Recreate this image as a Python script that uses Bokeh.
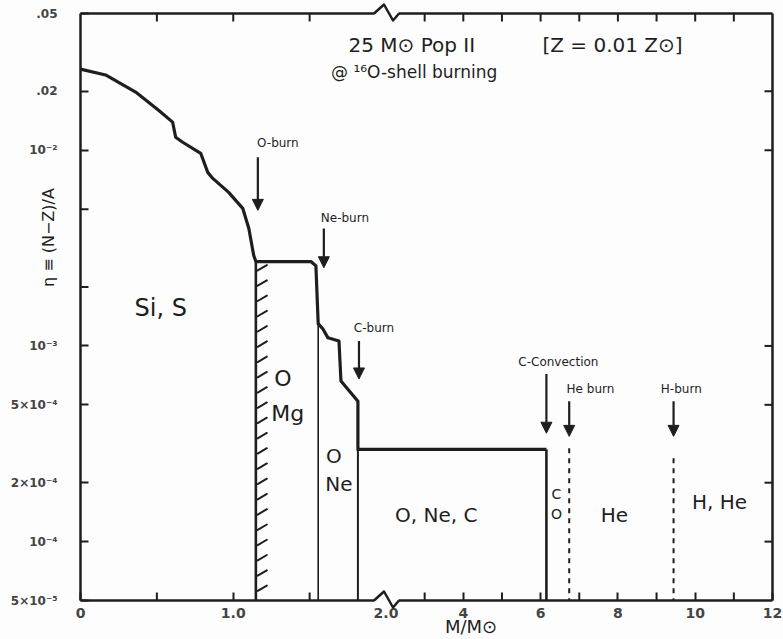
import numpy as np
from bokeh.plotting import figure
from bokeh.models import (Range1d, FixedTicker, LinearAxis, LogAxis, LogScale, Label, Arrow,
                          NormalHead)
from bokeh.embed import file_html
from bokeh.resources import INLINE

# ---------------- data ----------------
# broken mass axis: linear 0-2, compressed 2-12
BREAK = 2.0
RIGHT_SCALE = 0.253

mass_curve = [0.0, 0.164, 0.361, 0.511, 0.603, 0.623, 0.669, 0.787, 0.833, 0.866,
              0.970, 1.062, 1.102, 1.134, 1.148, 1.508, 1.541, 1.556, 1.587, 1.620,
              1.692, 1.705, 1.816, 1.816, 6.15]
eta_curve = [0.0260, 0.02426, 0.01983, 0.01603, 0.01393, 0.01166, 0.01099, 0.00965,
             0.00771, 0.00718, 0.00609, 0.00505, 0.00398, 0.00290, 0.00270, 0.00270,
             0.00257, 0.00130, 0.00122, 0.00110, 0.00106, 0.000662, 0.000522,
             0.000296, 0.000296]

boundary_mass = [1.148, 1.556, 1.816, 6.15]
boundary_top = [0.00270, 0.00130, 0.000296, 0.000296]
boundary_width = [2.6, 1.6, 2.0, 2.6]

dashed_mass = [6.74, 9.44]
dashed_top = [3.0e-4, 2.67e-4]

arrow_mass = [1.161, 1.593, 1.823, 6.15, 6.74, 9.44]
arrow_top = [9.2e-3, 3.98e-3, 1.06e-3, 7.18e-4, 5.22e-4, 5.22e-4]
arrow_tip = [4.93e-3, 2.51e-3, 6.78e-4, 3.58e-4, 3.45e-4, 3.45e-4]
arrow_text = ["O-burn", "Ne-burn", "C-burn", "C-Convection", "He burn", "H-burn"]
arrow_text_mass = [1.292, 1.731, 1.921, 6.46, 7.29, 9.64]
arrow_text_eta = [0.01086, 4.53e-3, 1.236e-3, 8.28e-4, 6.01e-4, 6.01e-4]

zone_text = ["Si, S", "O", "Mg", "O", "Ne", "O, Ne, C", "C", "O", "He", "H, He"]
zone_mass = [0.525, 1.325, 1.357, 1.659, 1.692, 3.30, 6.41, 6.41, 7.91, 10.63]
zone_eta = [1.567e-3, 6.78e-4, 4.53e-4, 2.73e-4, 1.96e-4, 1.37e-4, 1.76e-4, 1.39e-4,
            1.37e-4, 1.6e-4]
zone_size = ["24px", "22px", "22px", "20px", "20px", "20px", "14px", "14px", "20px", "20px"]

x_label_mass = [0, 1.0, 2.0, 4, 6, 8, 10, 12]
x_label_text = ["0", "1.0", "2.0", "4", "6", "8", "10", "12"]
x_minor_mass = [0.5, 1.5, 3, 5, 7, 9, 11]
top_tick_mass = [0.5, 1.0, 1.5, 3, 4, 5, 6, 7, 8, 9, 10, 11]

y_label_vals = [0.05, 0.02, 0.01, 1e-3, 5e-4, 2e-4, 1e-4, 5e-5]
y_label_text = [".05", ".02", "10\u207b\u00b2", "10\u207b\u00b3", "5\u00d710\u207b\u2074",
                "2\u00d710\u207b\u2074", "10\u207b\u2074", "5\u00d710\u207b\u2075"]
y_minor_vals = [5e-3, 2e-3]
y_right_ticks = [0.02, 0.01, 1e-3, 5e-4, 2e-4, 1e-4]

title_text = ["25 M\u2299  Pop II", "[Z = 0.01 Z\u2299]", "@ \u00b9\u2076O-shell burning"]
title_mass = [2.75, 7.86, 2.73]
title_eta = [0.0345, 0.0345, 0.0251]

ETA_MIN, ETA_MAX = 5e-5, 0.05
MASS_MAX = 12.0

# ---------------- layout ----------------
W, H = 783, 639
ML, MR, MT, MB = 80, 11, 13, 39
TICK = 8
INK = "#1e1e1e"
BG = "#fdfdfd"
FONT = "DejaVu Sans"


def to_u(m):
    m = np.asarray(m, dtype=float)
    return np.round(np.where(m <= BREAK, m, BREAK + (m - BREAK) * RIGHT_SCALE), 6)


U_MAX = float(to_u(MASS_MAX))
px_u = (W - ML - MR) / U_MAX
px_dec = (H - MT - MB) / np.log10(ETA_MAX / ETA_MIN)
x_range = Range1d(-ML / px_u, U_MAX + MR / px_u)
y_range = Range1d(ETA_MIN * 10 ** (-MB / px_dec), ETA_MAX * 10 ** (MT / px_dec))
du_tick = TICK / px_u
fy_tick = 10 ** (TICK / px_dec)

p = figure(width=W, height=H, output_backend="svg", toolbar_location=None,
           x_axis_type=None, y_axis_type=None, x_range=x_range, y_range=y_range,
           min_border=0, min_border_left=0, min_border_right=0, min_border_top=0,
           min_border_bottom=0)
p.y_scale = LogScale()
p.background_fill_color = BG
p.border_fill_color = BG
p.outline_line_color = None
p.grid.visible = False


def style_axis(ax):
    ax.axis_line_color = INK
    ax.axis_line_width = 2.5
    ax.major_tick_line_color = INK
    ax.major_tick_line_width = 2
    ax.major_tick_in = TICK
    ax.major_tick_out = 0
    ax.minor_tick_line_color = None
    ax.major_label_text_font = FONT
    ax.major_label_text_font_style = "bold"
    ax.major_label_text_color = "#444444"


xt = [float(v) for v in to_u(x_label_mass)]
bottom = LinearAxis(fixed_location=ETA_MIN, bounds=(0, U_MAX), ticker=FixedTicker(ticks=xt))
bottom.major_label_overrides = {t: s for t, s in zip(xt, x_label_text)}
style_axis(bottom)
bottom.major_label_standoff = 7
bottom.major_label_text_font_size = "14px"
p.add_layout(bottom, "below")

left = LogAxis(fixed_location=0.0, bounds=(ETA_MIN, ETA_MAX),
               ticker=FixedTicker(ticks=y_label_vals))
left.major_label_overrides = {t: s for t, s in zip(y_label_vals, y_label_text)}
style_axis(left)
left.major_label_standoff = 23
left.major_label_text_font_size = "12px"
p.add_layout(left, "left")

# top and right frame sides with inward ticks
p.line([0, U_MAX], [ETA_MAX, ETA_MAX], line_color=INK, line_width=2.5)
p.line([U_MAX, U_MAX], [ETA_MIN, ETA_MAX], line_color=INK, line_width=2.5)
tu = to_u(top_tick_mass)
p.segment(x0=tu, y0=[ETA_MAX] * len(tu), x1=tu, y1=[ETA_MAX / fy_tick] * len(tu),
          line_color=INK, line_width=2)
p.segment(x0=[U_MAX] * len(y_right_ticks), y0=y_right_ticks,
          x1=[U_MAX - du_tick] * len(y_right_ticks), y1=y_right_ticks,
          line_color=INK, line_width=2)
mu = to_u(x_minor_mass)
p.segment(x0=mu, y0=[ETA_MIN] * len(mu), x1=mu, y1=[ETA_MIN * fy_tick] * len(mu),
          line_color=INK, line_width=2)
p.segment(x0=[0] * len(y_minor_vals), y0=y_minor_vals, x1=[du_tick] * len(y_minor_vals),
          y1=y_minor_vals, line_color=INK, line_width=2)

# ---------------- marks ----------------
p.line(to_u(mass_curve), eta_curve, line_color=INK, line_width=3.2, line_join="round")

p.segment(x0=to_u(boundary_mass), y0=boundary_top, x1=to_u(boundary_mass),
          y1=[ETA_MIN] * len(boundary_mass), line_color=INK, line_width=boundary_width)

p.segment(x0=to_u(dashed_mass), y0=dashed_top, x1=to_u(dashed_mass),
          y1=[ETA_MIN] * len(dashed_mass), line_color=INK, line_width=2,
          line_dash="5 5")

# hatching on the O/Mg boundary
hy = np.geomspace(boundary_top[0] * 0.9, ETA_MIN * 1.12, 22)
hx0 = float(to_u(boundary_mass[0])) + 0.012
p.segment(x0=[hx0] * len(hy), y0=hy, x1=[hx0 + 0.06] * len(hy), y1=hy * 1.065,
          line_color=INK, line_width=2, line_cap="round")

for m, y0, y1 in zip(arrow_mass, arrow_top, arrow_tip):
    u = float(to_u(m))
    p.add_layout(Arrow(x_start=u, y_start=y0, x_end=u, y_end=y1, line_color=INK,
                       line_width=2.2,
                       end=NormalHead(size=11, fill_color=INK, line_color=INK, line_width=1)))

for t, m, e in zip(arrow_text, arrow_text_mass, arrow_text_eta):
    p.add_layout(Label(x=float(to_u(m)), y=e, text=t, text_align="center",
                       text_baseline="middle", text_font=FONT, text_font_size="12px",
                       text_color=INK))

for t, m, e, s in zip(zone_text, zone_mass, zone_eta, zone_size):
    p.add_layout(Label(x=float(to_u(m)), y=e, text=t, text_align="center",
                       text_baseline="middle", text_font=FONT, text_font_size=s,
                       text_color=INK))

for t, m, e, s in zip(title_text, title_mass, title_eta, ["20px", "20px", "17px"]):
    p.add_layout(Label(x=float(to_u(m)), y=e, text=t, text_align="center",
                       text_baseline="middle", text_font=FONT, text_font_size=s,
                       text_color=INK))

# axis titles
p.add_layout(Label(x=float(to_u(4.2)), y=3.7e-5, text="M/M\u2299", text_align="center",
                   text_baseline="middle", text_font=FONT, text_font_size="18px",
                   text_color=INK))
p.add_layout(Label(x=-0.21, y=3.58e-3, text="\u03b7 \u2261 (N\u2212Z)/A",
                   text_align="center", text_baseline="middle", angle=np.pi / 2,
                   text_font=FONT, text_font_size="16px", text_color=INK))

# axis break marks at the 2.0 break
zz_px = [-12, -2, 7, 13]
zz_up = [0, 9, -7, 0]
zu = [BREAK + d / px_u for d in zz_px]
for edge, inward in [(ETA_MAX, -1), (ETA_MIN, 1)]:
    lo = edge * 10 ** (-(12 if inward < 0 else 4) / px_dec)
    hi = edge * 10 ** ((12 if inward > 0 else 4) / px_dec)
    p.quad(left=zu[0] + 0.5 / px_u, right=zu[-1] - 0.5 / px_u, bottom=lo, top=hi,
           fill_color=BG, line_color=None, level="overlay")
    p.line(zu, [edge * 10 ** (d / px_dec) for d in zz_up], line_color=INK, line_width=2.5,
           line_join="round", level="overlay")

open("out.html", "w").write(file_html(p, INLINE))
